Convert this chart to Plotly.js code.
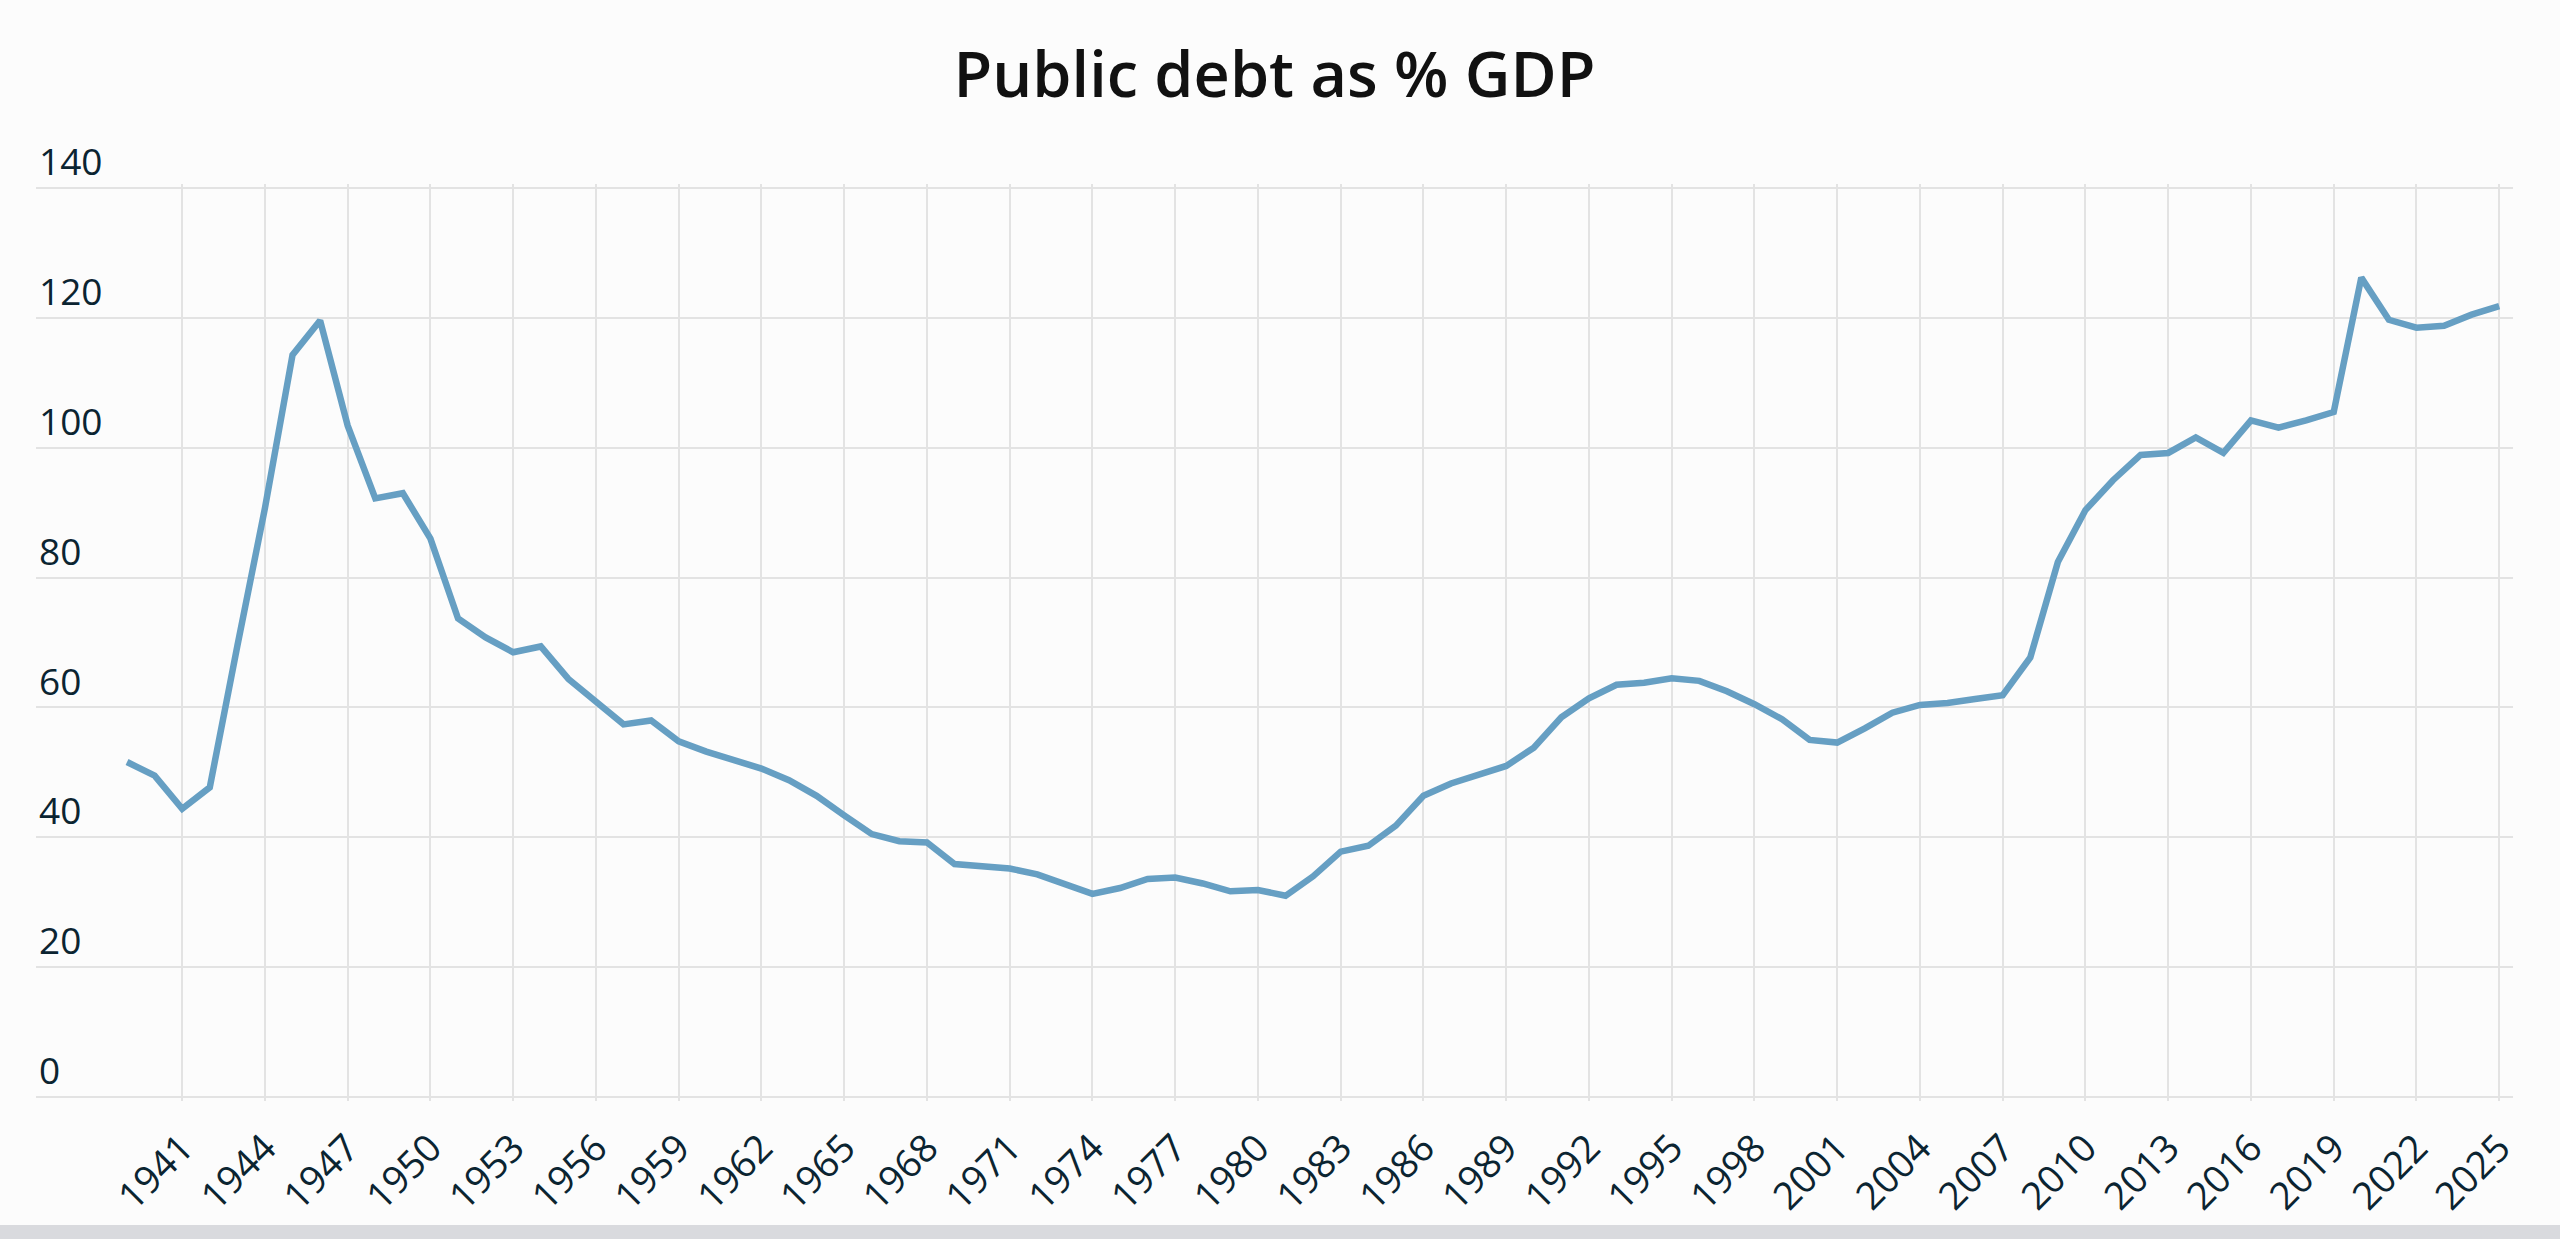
<!DOCTYPE html>
<html>
<head>
<meta charset="utf-8">
<script src="https://cdn.plot.ly/plotly-3.0.1.min.js"></script>
<style>
  html, body { margin: 0; padding: 0; background: #d9dade; }
  #chart { width: 2560px; height: 1225px; }
</style>
</head>
<body>
<div id="chart"></div>
<script>
const years = [1939,1940,1941,1942,1943,1944,1945,1946,1947,1948,1949,
  1950,1951,1952,1953,1954,1955,1956,1957,1958,1959,
  1960,1961,1962,1963,1964,1965,1966,1967,1968,1969,
  1970,1971,1972,1973,1974,1975,1976,1977,1978,1979,
  1980,1981,1982,1983,1984,1985,1986,1987,1988,1989,
  1990,1991,1992,1993,1994,1995,1996,1997,1998,1999,
  2000,2001,2002,2003,2004,2005,2006,2007,2008,2009,
  2010,2011,2012,2013,2014,2015,2016,2017,2018,2019,
  2020,2021,2022,2023,2024,2025];

const debtPctGdp = [51.6,49.5,44.4,47.7,69.5,90.7,114.3,119.6,103.4,92.2,93.0,
  86.0,73.7,70.8,68.5,69.4,64.4,60.8,57.4,58.0,54.8,
  53.2,51.9,50.6,48.8,46.4,43.4,40.5,39.4,39.2,35.9,
  35.5,35.2,34.3,32.8,31.3,32.2,33.6,33.8,32.9,31.7,
  31.9,31.0,34.0,37.8,38.7,41.8,46.4,48.3,49.6,51.0,
  53.8,58.5,61.4,63.5,63.8,64.5,64.1,62.5,60.5,58.2,
  55.0,54.6,56.8,59.2,60.4,60.7,61.3,61.9,67.7,82.4,
  90.4,95.0,98.9,99.2,101.6,99.2,104.2,103.1,104.2,105.5,
  126.2,119.7,118.5,118.8,120.5,121.8];

const xTicks = [1941,1944,1947,1950,1953,1956,1959,1962,1965,1968,1971,1974,1977,1980,
  1983,1986,1989,1992,1995,1998,2001,2004,2007,2010,2013,2016,2019,2022,2025];
const yTicks = [0,20,40,60,80,100,120,140];

const titleText = "Public debt as % GDP";

// geometry (pixels)
const H = 1225, marginT = 100;
const gridTopPx = 188, zeroPx = 1097;       // pixel rows of the 140 and 0 grid lines
const yMin = 0, yMax = 140, pad = 0.6;       // small value padding so edge grid lines are drawn
const s = (zeroPx - gridTopPx) / (yMax - yMin);
const plotBottomPx = zeroPx + pad * s;
const marginB = H - plotBottomPx;
const plotH = plotBottomPx - marginT;
const d = (plotBottomPx - (gridTopPx - pad * s)) / plotH;
const yLo = yMin - pad, yHi = yMax + pad;

const textColor = "#0b2431";

const traces = [
  {
    x: years, y: debtPctGdp, type: "scatter", mode: "lines",
    line: { color: "#669fc3", width: 6.5 },
    xaxis: "x", yaxis: "y"
  },
  { x: [], y: [], type: "scatter", mode: "lines", xaxis: "x2", yaxis: "y2", hoverinfo: "skip", showlegend: false }
];

const layout = {
  width: 2560, height: H,
  paper_bgcolor: "#fcfcfc", plot_bgcolor: "rgba(0,0,0,0)",
  showlegend: false,
  margin: { l: 36, r: 47, t: marginT, b: marginB, pad: 0 },
  title: {
    text: titleText,
    font: { family: "Open Sans, sans-serif", size: 63, color: "#111111", weight: 600 },
    x: 0.5, xanchor: "center", xref: "paper",
    y: 1 - 75 / H, yref: "container", yanchor: "middle"
  },
  xaxis: {
    range: [1935.7, 2025.5],
    tickmode: "array", tickvals: xTicks, ticktext: xTicks.map(String),
    tickangle: -45, tickfont: { family: "Open Sans, sans-serif", size: 38, color: textColor },
    ticklabelstandoff: 16,
    showgrid: true, gridcolor: "#e3e3e3", gridwidth: 2,
    zeroline: false, showline: false, ticks: "", ticklen: 0,
    anchor: "y", domain: [0, 1]
  },
  yaxis: {
    range: [yLo, yHi], domain: [0, d],
    tickmode: "array", tickvals: yTicks,
    showticklabels: false,
    showgrid: true, gridcolor: "#e3e3e3", gridwidth: 2,
    zeroline: false, showline: false, ticks: "",
    anchor: "x"
  },
  xaxis2: {
    range: [0, 1], domain: [0, 1], anchor: "y2",
    visible: false, showgrid: false, zeroline: false
  },
  yaxis2: {
    range: [yLo, yLo + (yHi - yLo) / d], domain: [0, 1], anchor: "x2",
    tickmode: "array", tickvals: yTicks,
    ticklabelposition: "inside top",
    tickfont: { family: "Open Sans, sans-serif", size: 37, color: textColor },
    showgrid: false, zeroline: false, showline: false, ticks: ""
  }
};

Plotly.newPlot("chart", traces, layout, { displayModeBar: false, staticPlot: true });
</script>
</body>
</html>
